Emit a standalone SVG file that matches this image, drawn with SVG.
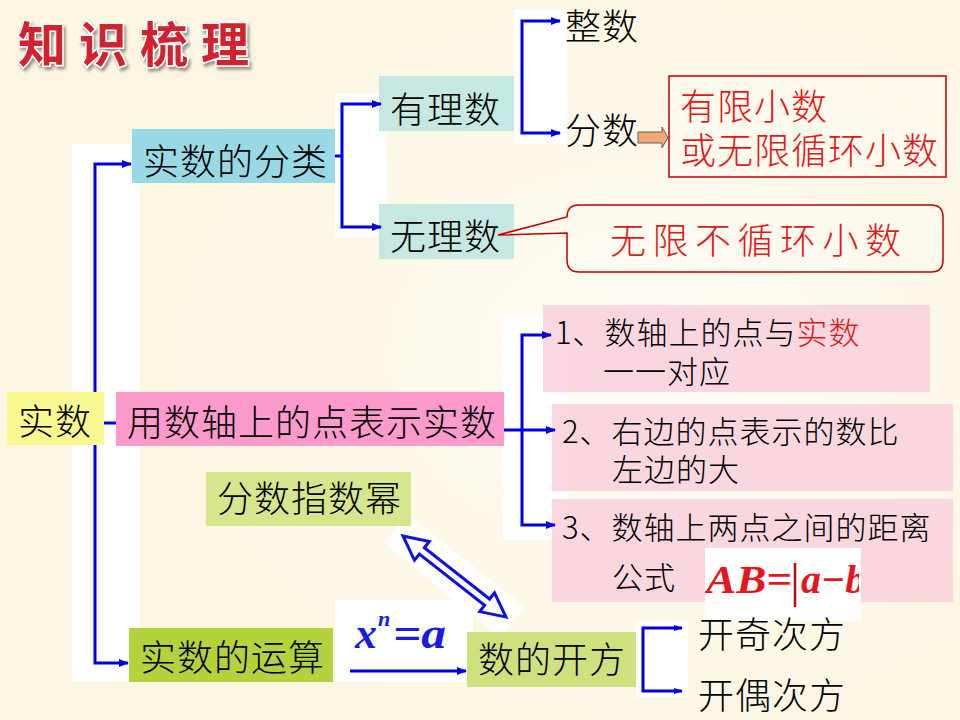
<svg xmlns="http://www.w3.org/2000/svg" width="960" height="720" viewBox="0 0 960 720">
<defs>
<radialGradient id="bgGlow" cx="0.68" cy="0.5" r="0.55">
<stop offset="0" stop-color="#FFFDF6"/>
<stop offset="0.6" stop-color="#FDF8E8"/>
<stop offset="1" stop-color="#FCF6E2"/>
</radialGradient>
<marker id="ah" markerUnits="userSpaceOnUse" markerWidth="10" markerHeight="8" refX="9" refY="4" orient="auto-start-reverse"><path d="M0,0 L10,4 L0,8 Z" fill="#0000E6"/></marker>
<marker id="ahs" markerUnits="userSpaceOnUse" markerWidth="9" markerHeight="6" refX="8" refY="3" orient="auto-start-reverse"><path d="M0,0 L9,3 L0,6 Z" fill="#0000E6"/></marker>
<filter id="tshadow" x="-10%" y="-20%" width="130%" height="160%"><feDropShadow dx="2" dy="3" stdDeviation="1.5" flood-color="#555" flood-opacity="0.6"/></filter>
<clipPath id="abclip"><rect x="705" y="548" width="154" height="73"/></clipPath>
<style>
.t{font-family:"Noto Sans CJK SC","Noto Sans CJK TC",sans-serif;fill:#000;font-weight:300;}
.lbl{font-size:36px;letter-spacing:1px;}
.sm{font-size:31px;letter-spacing:1px;}
.red{fill:#E01818;}
.wh{fill:#FFFFFF;}
.cn{fill:none;stroke:#0000E6;stroke-width:3;}
.math{font-family:"Liberation Serif","Times New Roman",serif;font-weight:bold;font-style:italic;}
</style>
</defs>
<rect width="960" height="720" fill="url(#bgGlow)"/>

<text x="18" y="62" font-family="Noto Sans CJK SC, sans-serif" font-weight="bold" font-size="48" letter-spacing="13" fill="#D2202E" stroke="#FFFFFF" stroke-width="3" paint-order="stroke" filter="url(#tshadow)">知识梳理</text>

<g id="connector-backgrounds">
<rect class="wh" x="72" y="144" width="68" height="538"/>
<rect class="wh" x="335" y="93" width="52" height="144"/>
<rect class="wh" x="514" y="9" width="53" height="135"/>
<rect class="wh" x="503" y="317" width="64" height="223"/>
<rect class="wh" x="636" y="621" width="52" height="76"/>
<rect class="wh" x="335" y="600" width="138" height="82"/>
<polygon class="wh" points="407,514 525,607 500,637 384,543"/>
</g>

<g id="n-shishu"><rect x="7" y="392" width="97" height="53" fill="#FAF98F"/><text class="t lbl" x="18" y="435">实数</text></g>
<g id="n-fenlei"><rect x="132" y="129" width="203" height="54" fill="#99D9E6"/><text class="t lbl" x="143" y="175">实数的分类</text></g>
<g id="n-youli"><rect x="379" y="76" width="135" height="55" fill="#C6E8E2"/><text class="t lbl" x="390" y="123">有理数</text></g>
<g id="n-wuli"><rect x="379" y="204" width="135" height="55" fill="#C6E8E2"/><text class="t lbl" x="390" y="250">无理数</text></g>
<g id="n-zhengshu"><text class="t lbl" x="565" y="40">整数</text></g>
<g id="n-fenshu"><text class="t lbl" x="565" y="144">分数</text></g>
<g id="n-fenshu-note">
<polygon points="638,132 662,132 662,127 668,137.5 662,148 662,143 638,143" fill="#F2A878" stroke="#6E5A4E" stroke-width="1"/>
<rect x="669" y="76" width="277" height="101" fill="#FFFDF5" fill-opacity="0.4" stroke="#C00000" stroke-width="1.5"/>
<text class="t lbl red" x="680" y="120">有限小数</text>
<text class="t lbl red" x="680" y="164">或无限循环小数</text>
</g>
<g id="n-wuli-note">
<path d="M579,205 H931 Q943,205 943,217 V260 Q943,272 931,272 H579 Q567,272 567,260 V233 L498,235 L567,217 Q567,205 579,205 Z" fill="#FFFDF5" fill-opacity="0.3" stroke="#C00000" stroke-width="1.5"/>
<text class="t red" x="610" y="254" font-size="36" letter-spacing="6.5">无限不循环小数</text>
</g>
<g id="n-shuzhou"><rect x="116" y="392" width="388" height="54" fill="#FC9ACB"/><text class="t lbl" x="127" y="436">用数轴上的点表示实数</text></g>
<g id="n-item1"><rect x="543" y="305" width="387" height="87" fill="#F9D0DC" fill-opacity="0.85"/><text class="t sm" x="555" y="344">1、数轴上的点与<tspan class="red">实数</tspan></text><text class="t sm" x="603" y="383">一一对应</text></g>
<g id="n-item2"><rect x="552" y="404" width="401" height="87" fill="#F9D0DC" fill-opacity="0.85"/><text class="t sm" x="562" y="443">2、右边的点表示的数比</text><text class="t sm" x="612" y="481">左边的大</text></g>
<g id="n-item3"><rect x="552" y="499" width="401" height="103" fill="#F9D0DC" fill-opacity="0.85"/><text class="t sm" x="562" y="539">3、数轴上两点之间的距离</text><text class="t sm" x="612" y="589">公式</text>
<rect class="wh" x="705" y="548" width="156" height="73"/>
<g clip-path="url(#abclip)">
<text class="math" x="706" y="593" font-size="40" fill="#E8141C" textLength="86" lengthAdjust="spacingAndGlyphs">AB=</text>
<line x1="795" y1="563" x2="795" y2="607" stroke="#B01010" stroke-width="2.5"/>
<text class="math" x="801" y="593" font-size="40" fill="#E8141C">a−b</text>
</g>
</g>
<g id="n-fenshuzhishu"><rect x="206" y="472" width="205" height="54" fill="#D6E68C"/><text class="t lbl" x="217" y="512">分数指数幂</text></g>
<g id="n-yunsuan"><rect x="129" y="628" width="204" height="54" fill="#B4D23C"/><text class="t lbl" x="140" y="671">实数的运算</text></g>
<g id="n-kaifang"><rect x="467" y="632" width="169" height="55" fill="#CFE07F"/><text class="t lbl" x="478" y="673">数的开方</text></g>
<g id="n-kaiqi"><text class="t lbl" x="698" y="648">开奇次方</text></g>
<g id="n-kaiou"><text class="t lbl" x="698" y="709">开偶次方</text></g>

<g id="connectors">
<path class="cn" d="M95,392 V164 H131" marker-end="url(#ah)"/>
<path class="cn" d="M95,445 V663 H128" marker-end="url(#ah)"/>
<path class="cn" d="M104,423 H116" stroke-width="5"/>
<path class="cn" d="M381,104 H342 V227 H381" marker-start="url(#ah)" marker-end="url(#ah)"/>
<path class="cn" d="M335,156 H342"/>
<path class="cn" d="M560,21 H522 V133 H560" marker-start="url(#ah)" marker-end="url(#ah)"/>
<path class="cn" d="M551,335 H522 V525 H555" stroke-width="4" marker-start="url(#ah)" marker-end="url(#ah)"/>
<path class="cn" d="M504,430 H555" stroke-width="4" marker-end="url(#ah)"/>
<path class="cn" d="M682,628 H643 V691 H682" stroke-width="2" marker-start="url(#ahs)" marker-end="url(#ahs)"/>
<path class="cn" d="M350,671 H466" stroke-width="2.5" marker-end="url(#ah)"/>
<polygon transform="translate(403,536) rotate(38.2)" points="0,0 24,-12 24,-4 107,-4 107,-12 131,0 107,12 107,4 24,4 24,12" fill="#FFFFFF" stroke="#1010E0" stroke-width="3" stroke-linejoin="miter"/>
</g>

<g id="formula-xn">
<text class="math" x="355" y="648" font-size="44" fill="#1A1AE6">x</text>
<text class="math" x="378" y="626" font-size="22" fill="#1A1AE6">n</text>
<text class="math" x="393" y="648" font-size="44" fill="#1A1AE6" textLength="53" lengthAdjust="spacingAndGlyphs">=a</text>
</g>
</svg>
